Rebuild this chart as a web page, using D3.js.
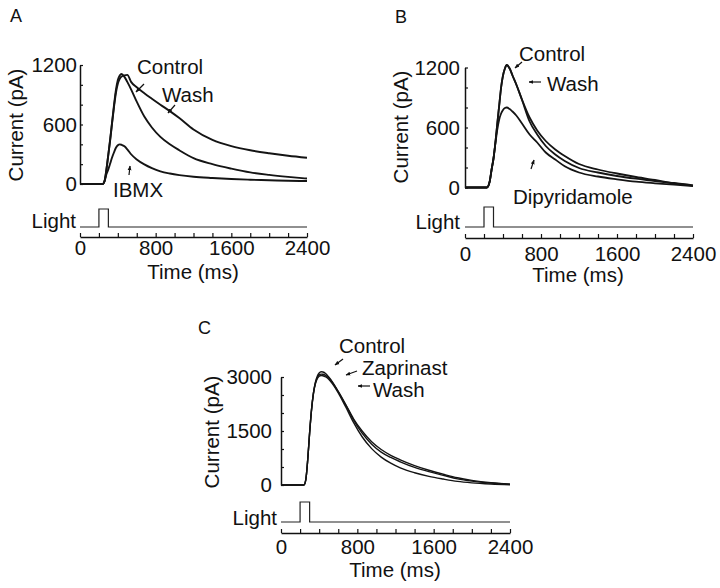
<!DOCTYPE html>
<html><head><meta charset="utf-8">
<script src="https://cdn.jsdelivr.net/npm/d3@7"></script>
<style>
html,body{margin:0;padding:0;background:#fff;}
svg{display:block;}
text{font-family:"Liberation Sans",Arial,Helvetica,sans-serif;fill:#111;}
</style></head><body>
<svg id="chart" width="720" height="588"></svg>
<script>
// ---------- DATA ----------
const timeTicks = [0, 800, 1600, 2400];
const lightTime = [0, 200, 200, 300, 300, 2400];
const lightLevel = [0, 0, 1, 1, 0, 0];

// Panel A (pA)
const aYTicks = [0, 600, 1200];
const aTime    = [0,240,260,280,300,320,340,360,380,400,420,440,470,500,540,600,680,760,850,950,1050,1200,1400,1600,1800,2000,2200,2400];
const aControl = [0,0,30,150,300,460,630,800,950,1050,1095,1110,1080,1030,955,830,680,570,475,400,340,260,200,155,117,92,72,55];
const aWash    = [0,0,30,150,300,450,620,780,920,1010,1060,1085,1095,1100,1030,975,915,860,800,735,665,550,445,382,340,310,285,265];
const aIBMX    = [0,0,30,100,150,210,270,320,365,390,400,395,380,350,300,248,198,160,128,106,90,73,60,50,43,38,33,30];

// Panel B (pA)
const bYTicks = [0, 600, 1200];
const bTime    = [0,230,260,280,300,320,340,360,380,400,420,440,470,500,540,600,680,760,850,950,1050,1200,1400,1600,1800,2000,2200,2400];
const bControl = [0,0,60,180,290,450,640,820,1000,1120,1190,1225,1190,1120,1030,880,700,570,465,380,315,235,180,140,105,75,45,22];
const bWash    = [0,0,60,180,290,450,640,820,1000,1120,1190,1225,1190,1120,1030,875,660,530,415,330,265,195,150,115,88,65,40,18];
const bDipyridamole = [0,0,60,180,290,440,580,680,740,775,795,800,785,760,720,640,530,450,350,280,212,150,110,82,58,42,28,15];

// Panel C (pA)
const cYTicks = [0, 1500, 3000];
const cTime       = [0,240,260,280,300,320,340,360,380,400,420,440,470,500,540,600,680,760,850,950,1050,1150,1250,1400,1550,1700,1850,2000,2200,2400];
const cControl    = [0,0,150,700,1450,2100,2560,2850,3020,3110,3145,3140,3090,3000,2860,2600,2230,1840,1500,1200,985,825,700,540,410,300,200,130,65,25];
const cZaprinast  = [0,0,150,700,1450,2100,2550,2830,2980,3060,3080,3075,3040,2970,2840,2590,2210,1810,1440,1135,915,765,645,490,370,270,170,108,55,20];
const cWash       = [0,0,150,700,1450,2080,2530,2800,2950,3020,3040,3035,3000,2940,2810,2560,2160,1740,1340,1010,775,605,475,340,240,165,100,60,27,6];

// ---------- LAYOUT ----------
const panels = [
  { letter:"A", lx:10, ly:22,
    x0:80, x1:307, yBottom:184, yTop:65, yMax:1200, yTicks:aYTicks, yStep:200, yPad:3,
    lightBase:227, lightTop:209, xAxisY:237, xPad:3,
    timeLab:[193,279], curLab:[15,125], lightLab:[76,228],
    time:aTime, series:[aControl, aWash, aIBMX], sw:1.9,
    notes:[ {t:"Control", x:137, y:74}, {t:"Wash", x:162, y:102}, {t:"IBMX", x:113, y:197} ],
    arrows:[ [144,84,136,92], [175,105,168,113], [129,175,130,166] ] },
  { letter:"B", lx:395, ly:23,
    x0:465, x1:693, yBottom:187.5, yTop:67.5, yMax:1200, yTicks:bYTicks, yStep:200, yPad:5,
    lightBase:227, lightTop:207, xAxisY:238, xPad:8,
    timeLab:[578,282], curLab:[400,127], lightLab:[460,229],
    time:bTime, series:[bControl, bWash, bDipyridamole], sw:1.8,
    notes:[ {t:"Control", x:519, y:61}, {t:"Wash", x:547, y:91}, {t:"Dipyridamole", x:513, y:204} ],
    arrows:[ [522,62,515,68], [541,82,529,82], [531,169,534,160] ] },
  { letter:"C", lx:198, ly:334,
    x0:281, x1:510, yBottom:485, yTop:377, yMax:3000, yTicks:cYTicks, yStep:500, yPad:9,
    lightBase:522, lightTop:502, xAxisY:533, xPad:6,
    timeLab:[395,577], curLab:[211,432], lightLab:[277,525],
    time:cTime, series:[cControl, cZaprinast, cWash], sw:1.4,
    notes:[ {t:"Control", x:339, y:353}, {t:"Zaprinast", x:362, y:375}, {t:"Wash", x:373, y:397} ],
    arrows:[ [343,359,335,365], [357,371,346,375], [370,386,358,386] ] }
];

const FS = 20.5;
const svg = d3.select("#chart");
svg.append("rect").attr("width",720).attr("height",588).attr("fill","#fff");
svg.append("defs").append("marker")
  .attr("id","ah").attr("viewBox","0 0 10 10").attr("refX",9).attr("refY",5)
  .attr("markerWidth",4).attr("markerHeight",4).attr("orient","auto")
  .append("path").attr("d","M0,1 L10,5 L0,9 Z").attr("fill","#111");

panels.forEach(p => {
  const g = svg.append("g");
  const x = d3.scaleLinear().domain([0,2400]).range([p.x0, p.x1]);
  const y = d3.scaleLinear().domain([0,p.yMax]).range([p.yBottom, p.yTop]);
  const yl = d3.scaleLinear().domain([0,1]).range([p.lightBase, p.lightTop]);

  const ya = d3.axisLeft(y).tickValues(d3.range(0, p.yMax + 1, p.yStep))
    .tickSizeInner(-3).tickSizeOuter(0).tickPadding(p.yPad)
    .tickFormat(d => p.yTicks.includes(d) ? d : "");
  const yg = g.append("g").attr("transform",`translate(${p.x0},0)`).call(ya);
  const xa = d3.axisBottom(x).tickValues(d3.range(0, 2401, 200))
    .tickSizeInner(-4).tickSizeOuter(0).tickPadding(p.xPad)
    .tickFormat(d => timeTicks.includes(d) ? d : "");
  const xg = g.append("g").attr("transform",`translate(0,${p.xAxisY})`).call(xa);
  [yg, xg].forEach(a => {
    a.select(".domain").attr("stroke","#111").attr("stroke-width",1.5);
    a.selectAll(".tick line").attr("stroke","#111").attr("stroke-width",1.2);
    a.selectAll("text").attr("font-size",FS).attr("fill","#111")
      .attr("font-family","Liberation Sans, Arial, sans-serif");
  });

  const line = d3.line().x(d => x(d[0])).y(d => y(d[1])).curve(d3.curveMonotoneX);
  p.series.forEach(s => {
    g.append("path").datum(p.time.map((t,i) => [t, s[i]]))
      .attr("d", line).attr("fill","none").attr("stroke","#141414")
      .attr("stroke-width", p.sw).attr("stroke-linejoin","round");
  });
  const ll = d3.line().x(d => x(d[0])).y(d => yl(d[1]));
  g.append("path").datum(lightTime.map((t,i) => [t, lightLevel[i]]))
    .attr("d", ll).attr("fill","none").attr("stroke","#222").attr("stroke-width",1.2);

  g.append("text").attr("x",p.lx).attr("y",p.ly).attr("font-size",18).text(p.letter);
  g.append("text").attr("x",p.timeLab[0]).attr("y",p.timeLab[1]).attr("text-anchor","middle")
    .attr("font-size",FS).text("Time (ms)");
  g.append("text").attr("transform",`translate(${p.curLab[0]},${p.curLab[1]}) rotate(-90)`)
    .attr("text-anchor","middle").attr("dominant-baseline","central")
    .attr("font-size",FS).text("Current (pA)");
  g.append("text").attr("x",p.lightLab[0]).attr("y",p.lightLab[1]).attr("text-anchor","end")
    .attr("font-size",FS).text("Light");
  p.notes.forEach(n => g.append("text").attr("x",n.x).attr("y",n.y).attr("font-size",FS).text(n.t));
  p.arrows.forEach(a => g.append("line").attr("x1",a[0]).attr("y1",a[1]).attr("x2",a[2]).attr("y2",a[3])
    .attr("stroke","#111").attr("stroke-width",1.2).attr("marker-end","url(#ah)"));
});
</script>
</body></html>
